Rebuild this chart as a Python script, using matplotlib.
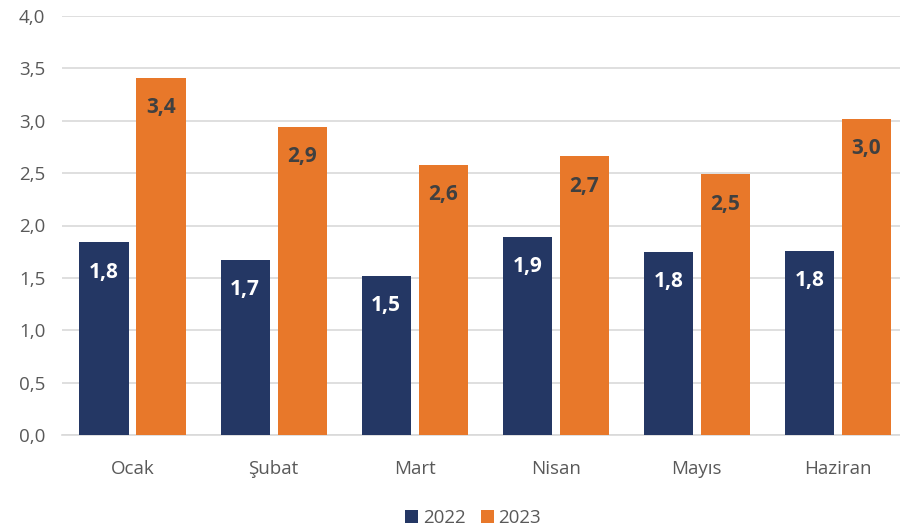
import matplotlib
matplotlib.use("Agg")
import matplotlib.pyplot as plt
import numpy as np

categories = ["Ocak", "Şubat", "Mart", "Nisan", "Mayıs", "Haziran"]
series_2022 = [1.84, 1.67, 1.52, 1.89, 1.75, 1.76]
series_2023 = [3.41, 2.94, 2.58, 2.66, 2.49, 3.02]
labels_2022 = ["1,8", "1,7", "1,5", "1,9", "1,8", "1,8"]
labels_2023 = ["3,4", "2,9", "2,6", "2,7", "2,5", "3,0"]
yticks = [0.0, 0.5, 1.0, 1.5, 2.0, 2.5, 3.0, 3.5, 4.0]
ytick_labels = ["0,0", "0,5", "1,0", "1,5", "2,0", "2,5", "3,0", "3,5", "4,0"]

navy = "#243764"
orange = "#E8782A"
grey = "#595959"

plt.rcParams['font.family'] = ['Open Sans', 'DejaVu Sans']

fig = plt.figure(figsize=(9, 5.32), dpi=100)
ax = fig.add_axes([62/900, 1-435/532, 1-62/900, (435-16)/532])

x = np.arange(len(categories))
w = 0.348
off = 0.202
b1 = ax.bar(x - off, series_2022, w, color=navy, label="2022", zorder=3)
b2 = ax.bar(x + off, series_2023, w, color=orange, label="2023", zorder=3)

for rect, lab in zip(b1, labels_2022):
    ax.annotate(lab, (rect.get_x() + rect.get_width()/2, rect.get_height()),
                xytext=(0, -21.5), textcoords="offset points", ha="center", va="center",
                color="white", fontsize=15, fontweight="bold", zorder=4)
for rect, lab in zip(b2, labels_2023):
    ax.annotate(lab, (rect.get_x() + rect.get_width()/2, rect.get_height()),
                xytext=(0, -21.5), textcoords="offset points", ha="center", va="center",
                color="#404040", fontsize=15, fontweight="bold", zorder=4)

ax.set_ylim(0, 4.0)
ax.set_xlim(-0.5, 5.44)
ax.set_yticks(yticks)
ax.set_yticklabels(ytick_labels, color=grey, fontsize=13.5)
ax.set_xticks(x)
ax.set_xticklabels(categories, color=grey, fontsize=13.5)
ax.tick_params(axis="both", length=0)
ax.tick_params(axis="x", pad=18)
ax.tick_params(axis="y", pad=12)
ax.grid(axis="y", color="#D9D9D9", linewidth=1.2, zorder=0)
for s in ["top", "right", "left"]:
    ax.spines[s].set_visible(False)
ax.spines["bottom"].set_color("#D9D9D9")
ax.spines["bottom"].set_linewidth(1.2)

fig.legend(handles=[b1, b2], labels=["2022", "2023"], loc="center",
           bbox_to_anchor=(473/900, 1-518/532), ncol=2, frameon=False,
           fontsize=13.5, handlelength=0.7, handleheight=0.7, handletextpad=0.25,
           columnspacing=0.8, labelcolor=grey)

fig.savefig("out.png", dpi=100)
